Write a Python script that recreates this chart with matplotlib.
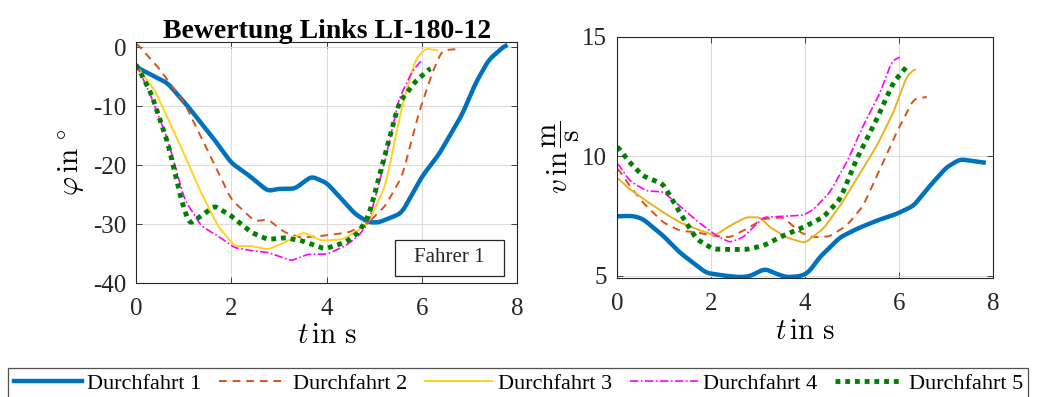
import numpy as np
import matplotlib
matplotlib.use("Agg")
import matplotlib.pyplot as plt
from matplotlib.lines import Line2D
from matplotlib.patches import Rectangle

plt.rcParams["font.family"] = ["Liberation Serif", "DejaVu Serif"]
plt.rcParams["mathtext.fontset"] = "cm"
plt.rcParams["axes.unicode_minus"] = False

# --- Lenkwinkel phi (left) ---
t1_phi = [0, 0.67, 1.09, 1.65, 2.0, 2.35, 2.77, 2.98, 3.33, 3.68, 4.0, 4.32, 4.6, 4.88, 5.09, 5.44, 5.58, 6.0, 6.35, 6.84, 7.12, 7.4, 7.75]
phi1 = [-3.3, -6.1, -10.0, -15.7, -19.6, -21.6, -24.4, -24.0, -24.0, -21.9, -23.0, -25.8, -28.3, -29.7, -29.7, -28.6, -28.0, -21.9, -18.2, -11.4, -6.1, -2.1, 0.4]

t2_phi = [0, 0.46, 1.02, 1.5, 2.0, 2.49, 2.77, 3.12, 3.47, 3.89, 4.46, 4.84, 5.23, 5.58, 5.93, 6.21, 6.42, 6.7]
phi2 = [0.8, -3.3, -9.5, -17.4, -25.8, -29.5, -29.2, -31.4, -32.3, -32.0, -31.4, -30.0, -26.9, -21.9, -11.2, -4.4, -0.5, -0.3]

t3_phi = [0, 0.39, 0.88, 1.37, 1.72, 2.07, 2.42, 2.77, 3.12, 3.51, 3.89, 4.32, 4.6, 4.88, 5.23, 5.58, 5.86, 6.07, 6.32]
phi3 = [-3.0, -7.2, -15.7, -24.7, -30.3, -33.7, -33.7, -34.3, -33.1, -31.4, -32.8, -32.6, -31.4, -29.7, -23.5, -10.0, -2.1, -0.2, -0.5]

t4_phi = [0, 0.32, 0.67, 1.02, 1.37, 1.72, 2.07, 2.42, 2.77, 3.26, 3.61, 4.0, 4.39, 4.67, 4.88, 5.23, 5.51, 5.79, 6.0]
phi4 = [-2.7, -8.3, -15.7, -25.8, -30.3, -32.0, -34.0, -34.5, -34.8, -36.2, -35.1, -35.1, -33.7, -32.0, -29.7, -19.0, -8.9, -4.1, -2.1]

t5_phi = [0, 0.32, 0.67, 0.95, 1.12, 1.37, 1.65, 2.0, 2.42, 2.77, 3.12, 3.47, 3.96, 4.39, 4.67, 4.88, 5.16, 5.51, 5.86, 6.18]
phi5 = [-2.7, -7.8, -16.2, -25.8, -30.0, -28.6, -26.9, -28.6, -31.4, -32.6, -32.3, -32.8, -34.2, -33.1, -31.4, -28.6, -20.2, -9.5, -5.8, -3.5]

# --- Geschwindigkeit v (right) ---
t1_v = [0, 0.34, 0.55, 0.98, 1.33, 1.69, 1.9, 2.26, 2.61, 2.82, 3.14, 3.39, 3.6, 3.89, 4.06, 4.31, 4.74, 5.09, 5.52, 5.94, 6.3, 6.65, 7.0, 7.29, 7.57, 7.79]
v1 = [7.48, 7.5, 7.37, 6.67, 5.97, 5.42, 5.11, 5.0, 4.93, 4.97, 5.28, 5.07, 4.93, 4.97, 5.11, 5.77, 6.6, 6.95, 7.3, 7.58, 7.92, 8.76, 9.53, 9.87, 9.8, 9.73]

t2_v = [0, 0.27, 0.55, 0.98, 1.33, 1.69, 2.04, 2.4, 2.75, 3.11, 3.53, 3.89, 4.17, 4.52, 4.88, 5.23, 5.59, 5.94, 6.3, 6.58]
v2 = [9.53, 8.76, 8.06, 7.23, 6.88, 6.81, 6.67, 6.6, 6.95, 7.37, 7.44, 6.81, 6.6, 6.64, 7.09, 7.92, 9.46, 10.99, 12.38, 12.49]

t3_v = [0, 0.27, 0.62, 0.98, 1.33, 1.69, 2.08, 2.4, 2.75, 3.04, 3.25, 3.6, 3.99, 4.38, 4.74, 5.09, 5.52, 5.87, 6.16, 6.33]
v3 = [9.11, 8.62, 8.13, 7.65, 7.23, 6.95, 6.67, 7.09, 7.44, 7.44, 7.02, 6.6, 6.36, 6.95, 7.92, 9.04, 10.43, 11.82, 13.36, 13.66]

t4_v = [0, 0.27, 0.62, 0.98, 1.33, 1.69, 2.11, 2.4, 2.68, 3.11, 3.53, 3.96, 4.17, 4.52, 4.88, 5.23, 5.59, 5.84, 6.01]
v4 = [9.74, 8.97, 8.55, 8.51, 7.92, 7.3, 6.67, 6.39, 6.6, 7.44, 7.48, 7.53, 7.76, 8.48, 9.74, 11.27, 12.66, 13.98, 14.16]

t5_v = [0, 0.27, 0.55, 0.98, 1.33, 1.69, 2.04, 2.4, 2.75, 3.11, 3.53, 3.96, 4.38, 4.74, 5.09, 5.52, 5.87, 6.19]
v5 = [10.43, 9.74, 9.18, 8.83, 7.65, 6.53, 6.11, 6.09, 6.09, 6.25, 6.67, 7.02, 7.44, 8.2, 9.87, 11.55, 13.08, 13.84]

labels = ["Durchfahrt 1", "Durchfahrt 2", "Durchfahrt 3", "Durchfahrt 4", "Durchfahrt 5"]
colors = ["#0072BD", "#D95319", "#FFD21F", "#FF00FF", "#008000"]
styles = [
    dict(ls="-", lw=3.2),
    dict(ls=(0, (4, 3)), lw=1.4),
    dict(ls="-", lw=1.4),
    dict(ls=(0, (5, 1.5, 1, 1.5)), lw=1.2),
    dict(ls=(0, (1, 1)), lw=3.5),
]


def _smooth(t, y, n=400, k=4):
    # light moving-average over a linear resampling to round the corners
    t = np.asarray(t, float)
    y = np.asarray(y, float)
    tt = np.linspace(t[0], t[-1], n)
    yy = np.interp(tt, t, y)
    pad = np.pad(yy, k, mode="edge")
    yy = np.convolve(pad, np.ones(2 * k + 1) / (2 * k + 1), mode="same")[k:-k]
    return tt, yy


def _style_axes(ax):
    ax.grid(True, color="#dcdcdc", lw=0.8)
    ax.set_axisbelow(True)
    for sp in ax.spines.values():
        sp.set_color("#262626")
        sp.set_linewidth(0.8)
    ax.tick_params(direction="in", length=4, width=0.6, labelsize=18,
                   top=True, right=True, colors="#262626")
    ax.tick_params(axis="x", pad=11)
    ax.tick_params(axis="y", pad=7)


fig = plt.figure(figsize=(10.37, 3.97), dpi=100)
ax1 = fig.add_axes([0.131, 0.287, 0.368, 0.607])
ax2 = fig.add_axes([0.595, 0.300, 0.363, 0.607])

phi_data = [(t1_phi, phi1), (t2_phi, phi2), (t3_phi, phi3), (t4_phi, phi4), (t5_phi, phi5)]
v_data = [(t1_v, v1), (t2_v, v2), (t3_v, v3), (t4_v, v4), (t5_v, v5)]

for (t, y), c, st in zip(phi_data, colors, styles):
    tt, yy = _smooth(t, y)
    ax1.plot(tt, yy, color=c, **st)

v_colors = list(colors)
v_colors[2] = "#EDB120"
for (t, y), c, st in zip(v_data, v_colors, styles):
    tt, yy = _smooth(t, y)
    ax2.plot(tt, yy, color=c, **st)

ax1.set_xlim(0, 8)
ax1.set_ylim(-40, 0.9)
ax1.set_xticks([0, 2, 4, 6, 8])
ax1.set_yticks([-40, -30, -20, -10, 0])
ax1.set_xlabel(r"$t\,\mathrm{in\ s}$", fontsize=21, labelpad=2)
ax1.set_ylabel(r"$\varphi\,\mathrm{in}\,^\circ$", fontsize=21, labelpad=4)
ax1.set_title("Bewertung Links LI-180-12", fontsize=20, fontweight="bold", pad=3)
ax1.add_patch(Rectangle((0.678, 0.029), 0.288, 0.149, transform=ax1.transAxes,
                        fc="white", ec="#262626", lw=0.9, zorder=5))
ax1.text(0.822, 0.104, "Fahrer 1", transform=ax1.transAxes, ha="center", va="center",
         fontsize=15, color="#262626", family="Liberation Serif", zorder=6)
_style_axes(ax1)

ax2.set_xlim(0, 8)
ax2.set_ylim(4.9, 15)
ax2.set_xticks([0, 2, 4, 6, 8])
ax2.set_yticks([5, 10, 15])
ax2.set_xlabel(r"$t\,\mathrm{in\ s}$", fontsize=21, labelpad=3)
ax2.set_ylabel(r"$v\,\mathrm{in}\,\dfrac{\mathrm{m}}{\mathrm{s}}$", fontsize=21, labelpad=0)
_style_axes(ax2)

handles = [Line2D([], [], color=c, **st) for c, st in zip(colors, styles)]
leg = fig.legend(handles, labels, loc="upper left", bbox_to_anchor=(0.008, 0.073),
                 ncol=5, fontsize=16, handlelength=3.05, handletextpad=0.25,
                 columnspacing=0.8, frameon=True, fancybox=False, borderpad=0.25,
                 borderaxespad=0)
leg.get_frame().set_edgecolor("#262626")
leg.get_frame().set_linewidth(0.9)

fig.savefig("out.png", dpi=100)
